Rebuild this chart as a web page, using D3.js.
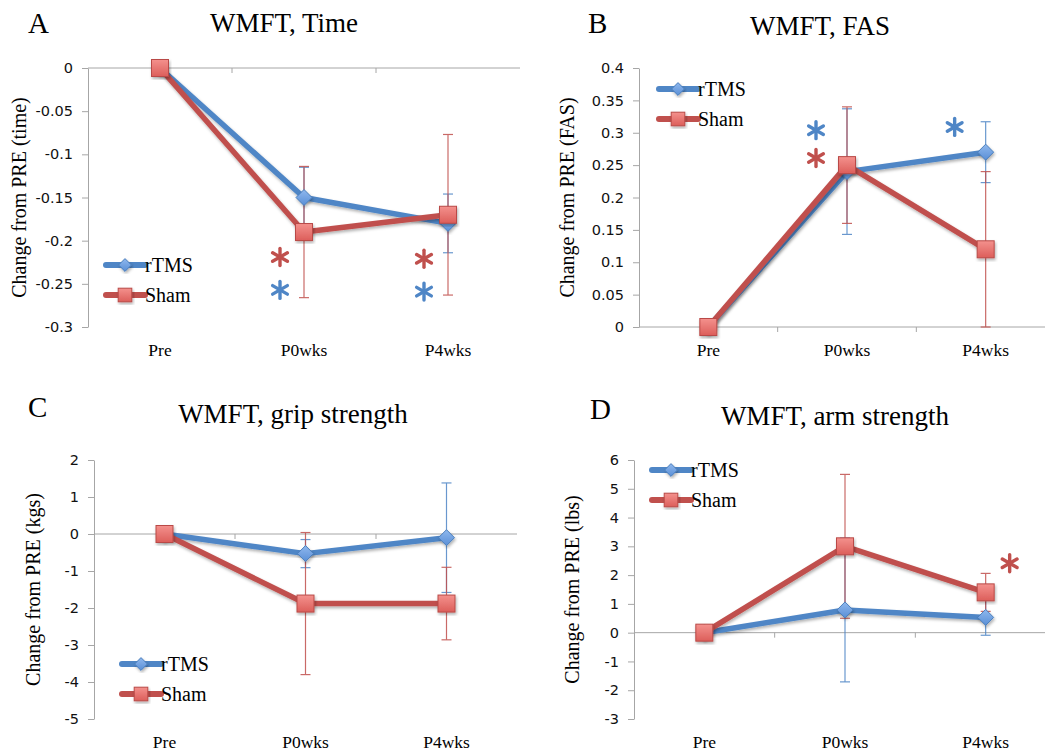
<!DOCTYPE html>
<html>
<head>
<meta charset="utf-8">
<script src="https://cdn.jsdelivr.net/npm/d3@7"></script>
<style>
body { margin: 0; background: #fff; }
svg { display: block; }
</style>
</head>
<body>
<svg id="fig" width="1045" height="753"></svg>
<script>
// categories and series
var categories = ["Pre", "P0wks", "P4wks"];
var seriesNames = ["rTMS", "Sham"];

// A: WMFT, Time
var timeRtms = [0, -0.15, -0.18];
var timeRtmsErr = [0, 0.035, 0.034];
var timeSham = [0, -0.19, -0.17];
var timeShamErr = [0, 0.076, 0.093];
var timeTicks = [0, -0.05, -0.1, -0.15, -0.2, -0.25, -0.3];
var timeStars = [
	{cat: "P0wks", series: "Sham", value: -0.219},
	{cat: "P0wks", series: "rTMS", value: -0.257},
	{cat: "P4wks", series: "Sham", value: -0.221},
	{cat: "P4wks", series: "rTMS", value: -0.259}
];

// B: WMFT, FAS
var fasRtms = [0, 0.24, 0.27];
var fasRtmsErr = [0, 0.097, 0.047];
var fasSham = [0, 0.25, 0.12];
var fasShamErr = [0, 0.09, 0.12];
var fasTicks = [0, 0.05, 0.1, 0.15, 0.2, 0.25, 0.3, 0.35, 0.4];
var fasStars = [
	{cat: "P0wks", series: "rTMS", value: 0.304},
	{cat: "P0wks", series: "Sham", value: 0.261},
	{cat: "P4wks", series: "rTMS", value: 0.309}
];

// C: WMFT, grip strength
var gripRtms = [0, -0.53, -0.1];
var gripRtmsErr = [0, 0.38, 1.48];
var gripSham = [0, -1.88, -1.88];
var gripShamErr = [0, 1.92, 0.98];
var gripTicks = [2, 1, 0, -1, -2, -3, -4, -5];
var gripStars = [];

// D: WMFT, arm strength
var armRtms = [0, 0.79, 0.53];
var armRtmsErr = [0, 2.5, 0.62];
var armSham = [0, 3.0, 1.4];
var armShamErr = [0, 2.5, 0.66];
var armTicks = [6, 5, 4, 3, 2, 1, 0, -1, -2, -3];
var armStars = [
	{cat: "P4wks", series: "Sham", value: 2.41}
];

var colors = {rTMS: "#4f86c6", Sham: "#c0504d"};
var markerFill = {rTMS: "url(#gradBlue)", Sham: "url(#gradRed)"};
var markerStroke = {rTMS: "#4a7ebb", Sham: "#b94a47"};

var panels = [
	{letter: "A", title: "WMFT, Time", ylabel: "Change from PRE (time)",
	 rtms: timeRtms, rtmsErr: timeRtmsErr, sham: timeSham, shamErr: timeShamErr,
	 ticks: timeTicks, stars: timeStars, starDx: -24,
	 left: 88, right: 520, top: 68, bottom: 327,
	 letterX: 28, letterY: 33, titleX: 284, titleY: 32, ylabelX: 19, legendX: 106, legendY: 265},
	{letter: "B", title: "WMFT, FAS", ylabel: "Change from PRE (FAS)",
	 rtms: fasRtms, rtmsErr: fasRtmsErr, sham: fasSham, shamErr: fasShamErr,
	 ticks: fasTicks, stars: fasStars, starDx: -31,
	 left: 639, right: 1055, top: 68, bottom: 327,
	 letterX: 588, letterY: 33, titleX: 820, titleY: 35, ylabelX: 567, legendX: 659, legendY: 89},
	{letter: "C", title: "WMFT, grip strength", ylabel: "Change from PRE (kgs)",
	 rtms: gripRtms, rtmsErr: gripRtmsErr, sham: gripSham, shamErr: gripShamErr,
	 ticks: gripTicks, stars: gripStars, starDx: 0,
	 left: 94, right: 517, top: 460, bottom: 719,
	 letterX: 28, letterY: 417, titleX: 293, titleY: 423, ylabelX: 33, legendX: 122, legendY: 664},
	{letter: "D", title: "WMFT, arm strength", ylabel: "Change from PRE (lbs)",
	 rtms: armRtms, rtmsErr: armRtmsErr, sham: armSham, shamErr: armShamErr,
	 ticks: armTicks, stars: armStars, starDx: 24,
	 left: 634, right: 1056, top: 460, bottom: 719,
	 letterX: 590, letterY: 419, titleX: 835, titleY: 425, ylabelX: 572, legendX: 652, legendY: 470}
];

var svg = d3.select("#fig");
var defs = svg.append("defs");

var gb = defs.append("linearGradient").attr("id", "gradBlue").attr("x1", 0).attr("y1", 0).attr("x2", 0).attr("y2", 1);
gb.append("stop").attr("offset", "0%").attr("stop-color", "#8fb8ee");
gb.append("stop").attr("offset", "100%").attr("stop-color", "#5a8fd6");
var gr = defs.append("linearGradient").attr("id", "gradRed").attr("x1", 0).attr("y1", 0).attr("x2", 0).attr("y2", 1);
gr.append("stop").attr("offset", "0%").attr("stop-color", "#f4918d");
gr.append("stop").attr("offset", "100%").attr("stop-color", "#dc5e5a");

var shadow = defs.append("filter").attr("id", "shadow")
	.attr("x", "-20%").attr("y", "-20%").attr("width", "140%").attr("height", "140%");
shadow.append("feDropShadow").attr("dx", 1).attr("dy", 2).attr("stdDeviation", 1.5)
	.attr("flood-color", "#000").attr("flood-opacity", 0.3);

var serif = "'Liberation Serif', 'Times New Roman', serif";
var sans = "'DejaVu Sans', sans-serif";

function marker(sel, name, cx, cy, s){
	s = s || 1;
	if (name == "rTMS"){
		var r = 8 * s;
		sel.append("path")
			.attr("d", "M" + cx + "," + (cy - r) + "L" + (cx + r) + "," + cy + "L" + cx + "," + (cy + r) + "L" + (cx - r) + "," + cy + "Z")
			.attr("fill", markerFill[name])
			.attr("stroke", markerStroke[name])
			.attr("stroke-width", 1)
			.attr("filter", "url(#shadow)");
	} else {
		var h = 8.5 * s;
		sel.append("rect")
			.attr("x", cx - h).attr("y", cy - h)
			.attr("width", 2 * h).attr("height", 2 * h)
			.attr("fill", markerFill[name])
			.attr("stroke", markerStroke[name])
			.attr("stroke-width", 1)
			.attr("filter", "url(#shadow)");
	}
}

function asterisk(sel, cx, cy, color){
	var r = 8.5;
	[90, 30, -30].forEach(function(a){
		var rad = a * Math.PI / 180;
		var dx = Math.cos(rad) * r, dy = Math.sin(rad) * r;
		sel.append("line")
			.attr("x1", cx - dx).attr("y1", cy - dy)
			.attr("x2", cx + dx).attr("y2", cy + dy)
			.attr("stroke", color)
			.attr("stroke-width", 3.4)
			.attr("stroke-linecap", "round");
	});
}

function drawPanel(p){
	var g = svg.append("g");

	var x = d3.scaleBand().domain(categories).range([p.left, p.right]).padding(0);
	var y = d3.scaleLinear().domain(d3.extent(p.ticks)).range([p.bottom, p.top]);
	var cx = function(c){ return x(c) + x.bandwidth() / 2; };

	// letter and title
	g.append("text").attr("x", p.letterX).attr("y", p.letterY)
		.attr("font-family", serif).attr("font-size", 29).attr("fill", "#000")
		.text(p.letter);
	g.append("text").attr("x", p.titleX).attr("y", p.titleY)
		.attr("text-anchor", "middle")
		.attr("font-family", serif).attr("font-size", 27).attr("fill", "#000")
		.text(p.title);

	// y axis
	var yAxis = d3.axisLeft(y).tickValues(p.ticks).tickSize(6).tickSizeOuter(0).tickPadding(9)
		.tickFormat(function(d){ return String(d); });
	var ya = g.append("g").attr("transform", "translate(" + p.left + ",0)").call(yAxis);
	ya.select(".domain").attr("stroke", "#a6a6a6");
	ya.selectAll(".tick line").attr("stroke", "#a6a6a6");
	ya.selectAll(".tick text").attr("font-family", sans).attr("font-size", 14.5).attr("fill", "#111");

	g.append("text")
		.attr("transform", "translate(" + p.ylabelX + "," + ((p.top + p.bottom) / 2) + ") rotate(-90)")
		.attr("dy", "0.35em")
		.attr("text-anchor", "middle")
		.attr("font-family", serif).attr("font-size", 20).attr("fill", "#000")
		.text(p.ylabel);

	// category axis at zero
	var y0 = y(0);
	g.append("line").attr("x1", p.left).attr("x2", p.right).attr("y1", y0).attr("y2", y0)
		.attr("stroke", "#a6a6a6").attr("stroke-width", 1);
	g.selectAll(".ctick").data(categories.slice(1)).enter().append("line")
		.attr("x1", function(d){ return x(d); }).attr("x2", function(d){ return x(d); })
		.attr("y1", y0).attr("y2", y0 + 5)
		.attr("stroke", "#a6a6a6");
	g.selectAll(".clabel").data(categories).enter().append("text")
		.attr("x", cx).attr("y", p.bottom + 29)
		.attr("text-anchor", "middle")
		.attr("font-family", serif).attr("font-size", 17.5).attr("fill", "#000")
		.text(function(d){ return d; });

	var series = [
		{name: "rTMS", values: p.rtms, err: p.rtmsErr},
		{name: "Sham", values: p.sham, err: p.shamErr}
	];

	// error bars
	series.forEach(function(s){
		s.values.forEach(function(v, i){
			var e = s.err[i];
			if (!e) return;
			var xc = cx(categories[i]);
			var eg = g.append("g").attr("stroke", colors[s.name]).attr("stroke-width", 1.2).attr("opacity", 0.85);
			eg.append("line").attr("x1", xc).attr("x2", xc).attr("y1", y(v + e)).attr("y2", y(v - e));
			[v + e, v - e].forEach(function(t){
				eg.append("line").attr("x1", xc - 5).attr("x2", xc + 5).attr("y1", y(t)).attr("y2", y(t));
			});
		});
	});

	// lines and markers
	var line = d3.line()
		.x(function(d, i){ return cx(categories[i]); })
		.y(function(d){ return y(d); });
	series.forEach(function(s){
		g.append("path").datum(s.values)
			.attr("d", line)
			.attr("fill", "none")
			.attr("stroke", colors[s.name])
			.attr("stroke-width", 5.5)
			.attr("stroke-linejoin", "round")
			.attr("filter", "url(#shadow)");
		s.values.forEach(function(v, i){
			marker(g, s.name, cx(categories[i]), y(v));
		});
	});

	// significance marks
	p.stars.forEach(function(st){
		asterisk(g, cx(st.cat) + p.starDx, y(st.value), colors[st.series]);
	});

	// legend
	seriesNames.forEach(function(name, i){
		var ly = p.legendY + i * 30;
		g.append("line").attr("x1", p.legendX).attr("x2", p.legendX + 39)
			.attr("y1", ly).attr("y2", ly)
			.attr("stroke", colors[name]).attr("stroke-width", 6).attr("stroke-linecap", "round");
		marker(g, name, p.legendX + 19, ly, 0.8);
		g.append("text").attr("x", p.legendX + 39).attr("y", ly + 7)
			.attr("font-family", serif).attr("font-size", 20).attr("fill", "#000")
			.text(name);
	});
}

panels.forEach(drawPanel);
</script>
</body>
</html>
